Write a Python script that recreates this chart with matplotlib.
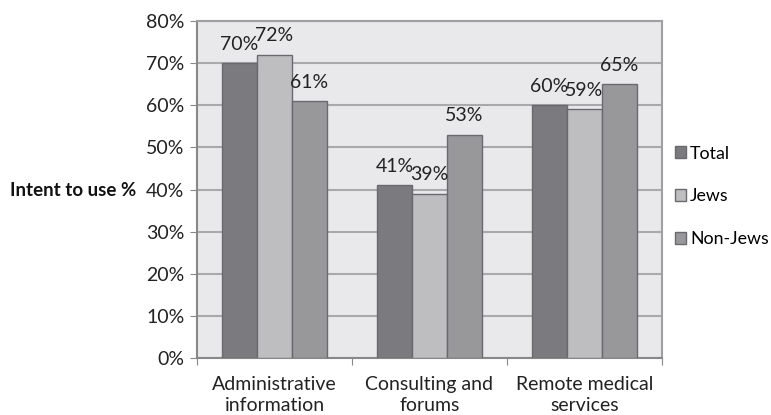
import matplotlib.pyplot as plt
import numpy as np

plt.rcParams['font.family'] = ['Lato', 'DejaVu Sans']

categories = ['Administrative\ninformation', 'Consulting and\nforums', 'Remote medical\nservices']
series_names = ['Total', 'Jews', 'Non-Jews']
total = [70, 41, 60]
jews = [72, 39, 59]
non_jews = [61, 53, 65]
yticks = [0, 10, 20, 30, 40, 50, 60, 70, 80]

colors = ['#7b7b7f', '#bebec1', '#98989b']
edge = '#6a6a6e'
FS = 14

fig = plt.figure(figsize=(7.71, 4.15), dpi=100)
ax = fig.add_axes([0.2555, 0.1373, 0.603, 0.812])
ax.set_facecolor('#e9e9eb')

x = np.arange(len(categories))
w = 0.225
for i, (name, vals, c) in enumerate(zip(series_names, [total, jews, non_jews], colors)):
    pos = x + (i - 1) * w
    ax.bar(pos, vals, width=w, color=c, edgecolor=edge, linewidth=1, label=name, zorder=3)
    for p, v in zip(pos, vals):
        ax.text(p, v + 2.5, f'{v}%', ha='center', va='bottom', fontsize=FS, color='#222222', zorder=4)

ax.set_xlim(-0.5, 2.5)
ax.set_ylim(0, 80)
ax.set_yticks(yticks)
ax.set_yticklabels([f'{t}%' for t in yticks], fontsize=FS, color='#222222')
ax.yaxis.grid(True, color='#a9a9ac', linewidth=1.5, zorder=1)
ax.set_axisbelow(True)

ax.set_xticks([-0.5, 0.5, 1.5, 2.5])
ax.set_xticklabels([])
ax.set_xticks(x, minor=True)
ax.set_xticklabels(categories, minor=True, fontsize=FS, color='#222222', linespacing=1.25)
ax.tick_params(axis='x', which='minor', length=0, pad=13)
ax.tick_params(axis='x', which='major', length=5, color='#888888', direction='out')
ax.tick_params(axis='y', length=5, color='#888888', direction='out', pad=4)

for s in ax.spines.values():
    s.set_color('#a0a0a3')
    s.set_linewidth(1.5)
ax.spines['bottom'].set_color('#888888')
ax.spines['left'].set_color('#888888')

fig.text(0.013, 0.54, 'Intent to use %', fontsize=13.5, fontweight='bold', ha='left', va='center', color='#111111')

leg = ax.legend(loc='center left', bbox_to_anchor=(1.028, 0.48), frameon=False, fontsize=12.8,
                handlelength=0.65, handleheight=0.65, handletextpad=0.2, labelspacing=1.5,
                borderpad=0, borderaxespad=0)

fig.savefig('out.png', dpi=100)
